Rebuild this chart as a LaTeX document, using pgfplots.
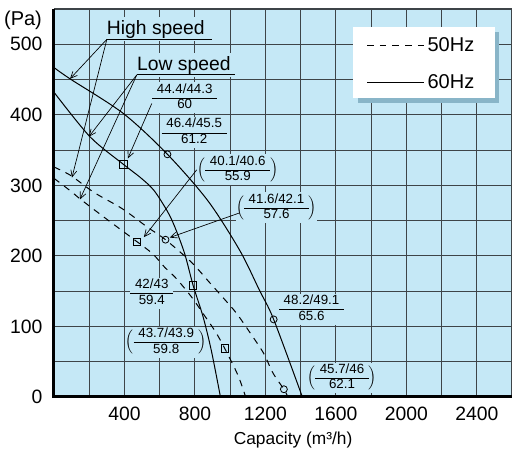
\documentclass[border=0pt]{standalone}
\usepackage{pgfplots}
\pgfplotsset{compat=1.18}
\usepackage{fontspec}
\setmainfont{Liberation Sans}
\usetikzlibrary{arrows.meta}
\definecolor{bgblue}{RGB}{197,232,246}
\definecolor{gridc}{RGB}{62,68,72}
\definecolor{shadowc}{RGB}{137,181,200}
\renewcommand{\arraystretch}{0.95}
\newcommand{\fr}[2]{\begin{tabular}{@{\hspace{3.5pt}}c@{\hspace{3.5pt}}}#1\\\hline #2\end{tabular}}
\newcommand{\pfr}[2]{$\Bigl(\fr{#1}{#2}\Bigr)$}
\begin{document}
\begin{tikzpicture}
\useasboundingbox (-40.5pt,-39.75pt) rectangle (343.5pt,297.75pt);
\begin{axis}[
  at={(0,0)}, anchor=south west, scale only axis,
  width=343.5pt, height=291pt,
  xmin=0, xmax=2600, ymin=0, ymax=550,
  axis background/.style={fill=bgblue},
  axis line style={draw=none},
  xtick={200,400,...,2600}, xticklabels={,400,,800,,1200,,1600,,2000,,2400,},
  ytick={0,50,...,500}, yticklabels={0,,100,,200,,300,,400,,500},
  major tick length=0pt,
  grid=major, major grid style={gridc, line width=0.8pt},
  tick label style={font=\fontsize{14.5}{16}\selectfont},
  /pgf/number format/assume math mode=true,
  xticklabel style={anchor=north, inner sep=0pt, yshift=-7.5pt},
  yticklabel style={anchor=east, inner sep=0pt, xshift=-8.6pt},
  xlabel={Capacity (m³/h)},
  every axis x label/.style={at={(rel axis cs:0.522,0)}, anchor=center, yshift=-32.25pt, font=\fontsize{13}{15}\selectfont},
  clip=false,
  legend style={draw=none, fill=none, at={(axis cs:1773,514)}, anchor=north west,
    inner xsep=0pt, inner ysep=0pt, row sep=11.75pt,
    font=\fontsize{15}{17}\selectfont,
    /tikz/every even column/.append style={column sep=2pt}},
  legend cell align=left,
  legend image code/.code={\draw[#1] (0pt,0pt) -- (43pt,0pt);},
]
% labels masking the grid
\node[fill=bgblue, inner sep=2pt, anchor=base, font=\fontsize{14.5}{17}\selectfont] at (axis cs:578,514.4) {High speed};
\node[fill=bgblue, inner sep=2pt, anchor=base, font=\fontsize{14.5}{17}\selectfont] at (axis cs:737,463.3) {Low speed};
\begin{scope}[every node/.style={fill=bgblue, inner sep=0pt, font=\fontsize{10}{12}\selectfont}]
\node at (axis cs:742,424) {\fr{44.4/44.3}{60}};
\node at (axis cs:796,374.5) {\fr{46.4/45.5}{61.2}};
\node at (axis cs:1043,322) {\pfr{40.1/40.6}{55.9}};
\node at (axis cs:1263,268) {\pfr{41.6/42.1}{57.6}};
\node at (axis cs:555,147) {\fr{42/43}{59.4}};
\node at (axis cs:637,77.7) {\pfr{43.7/43.9}{59.8}};
\node at (axis cs:1462,124.4) {\fr{48.2/49.1}{65.6}};
\node at (axis cs:1635,26.9) {\pfr{45.7/46}{62.1}};
\end{scope}
% legend box
\fill[shadowc] (axis cs:1723,517.5) rectangle (axis cs:2527,417);
\fill[white] (axis cs:1700,524.5) rectangle (axis cs:2504,424);
% curves
\addplot[black, line width=0.75pt, dash pattern=on 5pt off 4.5pt, smooth, tension=0.5] coordinates {
(0,326) (95,314) (227,290) (387,267) (529,241) (633,223) (780,191) (884,162) (952,143) (1035,119) (1116,90) (1190,62) (1243,34) (1305,11) (1328,0)};
\addlegendentry{50Hz}
\addplot[black, line width=0.75pt, smooth, tension=0.5] coordinates {
(0,467) (91,451) (393,402) (644,344) (874,278) (1054,208) (1167,151) (1247,110) (1410,0)};
\addlegendentry{60Hz}
\addplot[forget plot, black, line width=0.75pt, smooth, tension=0.5] coordinates {
(0,432) (204,369) (393,330) (491,311) (567,293) (642,264) (686,241) (742,203) (790,158) (846,114) (893,66) (945,0)};
\addplot[forget plot, black, line width=0.75pt, dash pattern=on 5pt off 4.5pt, smooth, tension=0.5] coordinates {
(0,310) (94,292) (147,281) (236,264) (321,248) (472,220) (560,203) (628,184) (694,168) (780,142) (861,113) (918,92) (969,69) (1044,31) (1088,0)};
% markers
\addplot[forget plot, only marks, mark=square, mark size=2.8pt, mark options={black, line width=0.6pt}] coordinates {(393,330) (472,220) (790,158) (969,69)};
\addplot[forget plot, only marks, mark=o, mark size=2.6pt, mark options={black, line width=0.6pt}] coordinates {(644,344) (633,223) (1247,110) (1305,11)};
% underlines and arrows
\draw[line width=0.6pt] (axis cs:300,507) -- (axis cs:895,507);
\draw[line width=0.6pt] (axis cs:470,456.6) -- (axis cs:1025,456.6);
\begin{scope}[line width=0.5pt, -{Straight Barb[length=5pt,width=4.5pt]}]
\draw (axis cs:300,507) -- (axis cs:91,451);
\draw (axis cs:300,507) -- (axis cs:102,311);
\draw (axis cs:470,456.6) -- (axis cs:198,369);
\draw (axis cs:470,456.6) -- (axis cs:147,280);
\draw (axis cs:555,416) -- (axis cs:419,338);
\draw (axis cs:810,322) -- (axis cs:510,226.5);
\draw (axis cs:1054,261) -- (axis cs:657,226);
\end{scope}
% frame
\draw[line width=1.5pt, gridc] (rel axis cs:0,1) -- (rel axis cs:1,1);
\draw[line width=2.25pt, black] (rel axis cs:0,1) -- (rel axis cs:0,0) -- (rel axis cs:1,0);
\node[font=\fontsize{15}{17}\selectfont, inner sep=0pt] at (rel axis cs:0,1) [xshift=-23.25pt, yshift=-8.25pt] {(Pa)};
\end{axis}
\end{tikzpicture}
\end{document}
